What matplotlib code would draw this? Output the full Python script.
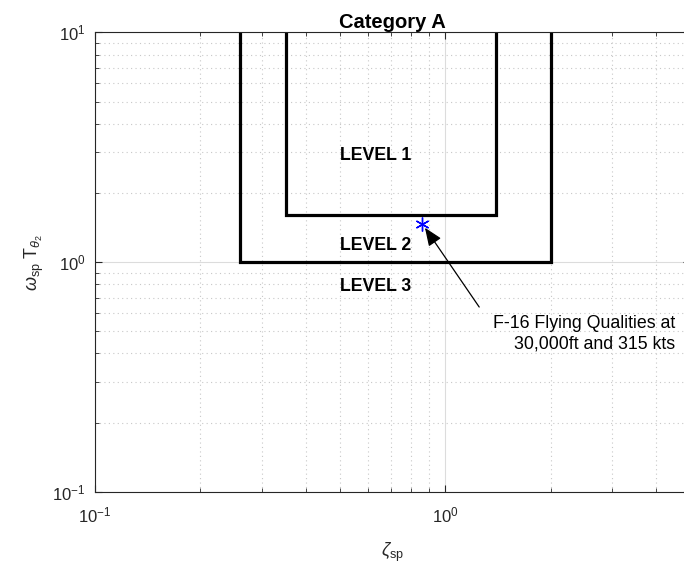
import matplotlib.pyplot as plt
from matplotlib.ticker import LogLocator, NullFormatter

plt.rcParams['font.family'] = ['Liberation Sans', 'DejaVu Sans']
plt.rcParams['mathtext.fontset'] = 'custom'
plt.rcParams['mathtext.rm'] = 'Liberation Sans'
plt.rcParams['mathtext.it'] = 'Liberation Sans:italic'

# level boundaries (zeta_sp, omega_sp*T_theta2)
level1_zeta = [0.35, 0.35, 1.4, 1.4]
level1_wt = [10, 1.6, 1.6, 10]
level2_zeta = [0.26, 0.26, 2.0, 2.0]
level2_wt = [10, 1.0, 1.0, 10]

# F-16 point
f16_zeta = [0.856]
f16_wt = [1.46]

level_names = ['LEVEL 1', 'LEVEL 2', 'LEVEL 3']
level_x = [0.633, 0.633, 0.633]
level_y = [2.92, 1.186, 0.786]

fig = plt.figure(figsize=(6.84, 5.65), dpi=100)
ax = fig.add_axes([0.1389, 0.1297, 0.870, 0.813])

ax.set_xscale('log')
ax.set_yscale('log')
ax.set_xlim(0.1, 5)
ax.set_ylim(0.1, 10)

ax.grid(True, which='major', color='#dcdcdc', linestyle='-', linewidth=0.8)
ax.grid(True, which='minor', color='#c8c8c8', linestyle=(0, (1, 3)), linewidth=0.8)
ax.set_axisbelow(True)

ax.plot(level1_zeta, level1_wt, color='black', linewidth=2.3, solid_joinstyle='miter')
ax.plot(level2_zeta, level2_wt, color='black', linewidth=2.3, solid_joinstyle='miter')
ax.plot(f16_zeta, f16_wt, marker=(6, 2, 0), linestyle='none', color='blue',
        markersize=10, markeredgewidth=1.0)

for name, x, y in zip(level_names, level_x, level_y):
    ax.text(x, y, name, ha='center', va='center', fontsize=12.8, fontweight='bold')

ax.annotate('', xy=(0.875, 1.41), xytext=(1.25, 0.637),
            arrowprops=dict(arrowstyle='-|>,head_length=1.1,head_width=0.45',
                            color='black', lw=0.9, shrinkA=0, shrinkB=0))
ax.text(4.53, 0.59, 'F-16 Flying Qualities at\n30,000ft and 315 kts',
        ha='right', va='top', fontsize=12.8, linespacing=1.3)

ax.set_title('Category A', fontsize=14.5, fontweight='bold', pad=3)
ax.set_xlabel(r'$\zeta_{\mathrm{sp}}$', fontsize=13, color='#262626', labelpad=11)
ax.set_ylabel(r'$\omega_{\mathrm{sp}}$ T$_{\theta_{2}}$', fontsize=13, color='#262626', labelpad=4)

ax.xaxis.set_minor_locator(LogLocator(base=10, subs=range(2, 10)))
ax.yaxis.set_minor_locator(LogLocator(base=10, subs=range(2, 10)))
ax.xaxis.set_minor_formatter(NullFormatter())
ax.yaxis.set_minor_formatter(NullFormatter())
ax.tick_params(which='both', direction='in', top=True, right=True,
               colors='#262626', labelsize=12)
ax.tick_params(which='major', length=5)
ax.tick_params(which='minor', length=3)
ax.tick_params(axis='x', pad=10)
ax.tick_params(axis='y', pad=7)
for sp in ax.spines.values():
    sp.set_color('#262626')
    sp.set_linewidth(0.8)

fig.savefig('out.png', dpi=100)
